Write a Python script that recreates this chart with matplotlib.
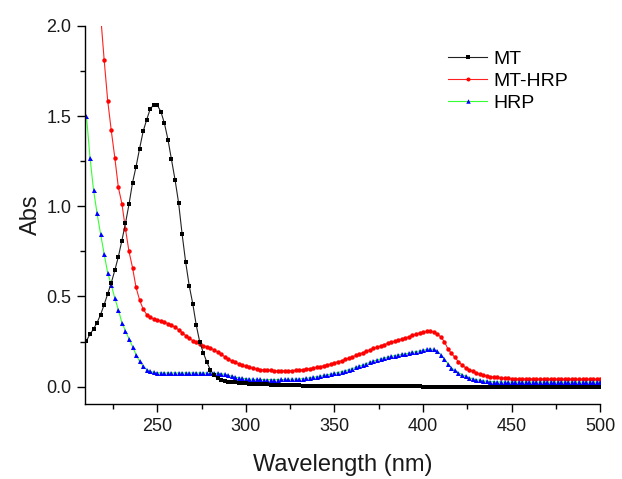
import numpy as np
import matplotlib
matplotlib.use("Agg")
import matplotlib.pyplot as plt

plt.rcParams["font.family"] = ["Liberation Sans", "DejaVu Sans"]

INK = "#1a1a1a"

# sampling grid of the spectra (nm)
wavelength = np.arange(210, 501, 2)

mt = [
    0.255, 0.29, 0.32, 0.355, 0.40, 0.455, 0.515, 0.575, 0.645, 0.72,
    0.81, 0.905, 1.01, 1.13, 1.22, 1.32, 1.415, 1.48, 1.54, 1.562,
    1.56, 1.525, 1.46, 1.37, 1.26, 1.147, 1.02, 0.845, 0.69, 0.56,
    0.46, 0.34, 0.245, 0.187, 0.135, 0.092, 0.065, 0.046, 0.036, 0.030,
    0.027, 0.025, 0.024, 0.022, 0.020, 0.018, 0.017, 0.016, 0.015, 0.014,
    0.013, 0.012, 0.011, 0.010, 0.010, 0.009, 0.009, 0.008, 0.008, 0.007,
    0.007, 0.006, 0.006, 0.006, 0.005, 0.005, 0.005, 0.005, 0.004, 0.004,
    0.004, 0.004, 0.004, 0.003, 0.003, 0.003, 0.003, 0.003, 0.003, 0.002,
    0.002, 0.002, 0.002, 0.002, 0.002, 0.002, 0.001, 0.001, 0.001, 0.001,
    0.001, 0.001, 0.001, 0.001, 0.001, 0.000, 0.000, 0.000, 0.000, 0.000,
    0.000, 0.000, 0.000, 0.000, 0.000, 0.000, 0.000, 0.000, 0.000, 0.000,
    0.000, 0.000, 0.000, 0.000, 0.000, 0.000, 0.000, 0.000, 0.000, 0.000,
    0.000, 0.000, 0.000, 0.000, 0.000, 0.000, 0.000, 0.000, 0.000, 0.000,
    0.000, 0.000, 0.000, 0.000, 0.000, 0.000, 0.000, 0.000, 0.000, 0.000,
    0.000, 0.000, 0.000, 0.000, 0.000, 0.000,
]

mt_hrp = [
    np.nan, np.nan, np.nan, np.nan, 2.06, 1.81, 1.585, 1.42, 1.27, 1.105,
    1.015, 0.875, 0.75, 0.66, 0.55, 0.48, 0.43, 0.40, 0.385, 0.375,
    0.37, 0.365, 0.358, 0.35, 0.34, 0.33, 0.315, 0.30, 0.283, 0.268,
    0.255, 0.245, 0.236, 0.228, 0.22, 0.213, 0.205, 0.192, 0.18, 0.166,
    0.153, 0.143, 0.134, 0.126, 0.118, 0.112, 0.107, 0.102, 0.098, 0.095,
    0.093, 0.091, 0.090, 0.089, 0.088, 0.088, 0.088, 0.088, 0.089, 0.090,
    0.092, 0.094, 0.097, 0.100, 0.103, 0.107, 0.111, 0.116, 0.121, 0.126,
    0.132, 0.138, 0.144, 0.151, 0.158, 0.165, 0.173, 0.181, 0.189, 0.196,
    0.204, 0.212, 0.219, 0.226, 0.233, 0.240, 0.246, 0.252, 0.258, 0.264,
    0.270, 0.277, 0.284, 0.291, 0.298, 0.303, 0.306, 0.307, 0.303, 0.293,
    0.275, 0.250, 0.210, 0.185, 0.162, 0.138, 0.120, 0.105, 0.095, 0.085,
    0.076, 0.069, 0.064, 0.060, 0.056, 0.053, 0.051, 0.049, 0.047, 0.046,
    0.045, 0.044, 0.043, 0.043, 0.042, 0.042, 0.042, 0.041, 0.041, 0.041,
    0.041, 0.040, 0.040, 0.040, 0.040, 0.040, 0.040, 0.040, 0.040, 0.040,
    0.040, 0.040, 0.040, 0.040, 0.040, 0.040,
]

hrp = [
    1.50, 1.27, 1.09, 0.96, 0.845, 0.735, 0.63, 0.565, 0.49, 0.427,
    0.355, 0.31, 0.265, 0.222, 0.177, 0.14, 0.113, 0.095, 0.085, 0.079,
    0.077, 0.076, 0.076, 0.076, 0.076, 0.076, 0.076, 0.076, 0.076, 0.076,
    0.076, 0.076, 0.076, 0.076, 0.075, 0.075, 0.075, 0.074, 0.072, 0.068,
    0.063, 0.058, 0.053, 0.049, 0.046, 0.044, 0.042, 0.041, 0.040, 0.040,
    0.039, 0.039, 0.039, 0.039, 0.039, 0.040, 0.040, 0.041, 0.041, 0.042,
    0.042, 0.044, 0.046, 0.049, 0.052, 0.055, 0.058, 0.062, 0.066, 0.070,
    0.074, 0.078, 0.083, 0.088, 0.094, 0.100, 0.107, 0.114, 0.121, 0.128,
    0.135, 0.142, 0.148, 0.154, 0.159, 0.164, 0.168, 0.172, 0.176, 0.179,
    0.182, 0.186, 0.190, 0.194, 0.198, 0.202, 0.206, 0.209, 0.206, 0.197,
    0.178, 0.155, 0.127, 0.105, 0.090, 0.078, 0.067, 0.058, 0.050, 0.044,
    0.039, 0.035, 0.032, 0.030, 0.028, 0.027, 0.026, 0.026, 0.025, 0.025,
    0.025, 0.025, 0.025, 0.025, 0.025, 0.025, 0.025, 0.025, 0.025, 0.025,
    0.025, 0.025, 0.025, 0.025, 0.025, 0.025, 0.025, 0.025, 0.025, 0.025,
    0.025, 0.025, 0.025, 0.025, 0.025, 0.025,
]

fig = plt.figure(figsize=(6.22, 4.79), dpi=100)
ax = fig.add_axes([0.137, 0.157, 0.828, 0.789])

h_mthrp, = ax.plot(wavelength, mt_hrp, color="#ff2020", linewidth=0.8, marker="o",
                   markersize=3.2, markerfacecolor="red", markeredgecolor="red",
                   markeredgewidth=0)
h_hrp, = ax.plot(wavelength, hrp, color="#33ff33", linewidth=0.8, marker="^",
                 markersize=3.6, markerfacecolor="blue", markeredgecolor="blue",
                 markeredgewidth=0)
h_mt, = ax.plot(wavelength, mt, color="#222222", linewidth=0.8, marker="s",
                markersize=3.0, markerfacecolor="black", markeredgecolor="black",
                markeredgewidth=0)

ax.set_xlim(209.3, 500)
ax.set_ylim(-0.095, 2.0)
ax.set_xticks([250, 300, 350, 400, 450, 500])
ax.set_xticks([225, 275, 325, 375, 425, 475], minor=True)
ax.set_yticks([0.0, 0.5, 1.0, 1.5, 2.0])
ax.set_yticks([0.25, 0.75, 1.25, 1.75], minor=True)
ax.set_yticklabels(["0.0", "0.5", "1.0", "1.5", "2.0"])

ax.tick_params(which="major", direction="out", length=6, width=1, labelsize=13,
               labelcolor=INK, pad=4)
ax.tick_params(which="minor", direction="out", length=3.5, width=1)
for spine in ("top", "right"):
    ax.spines[spine].set_visible(False)
for spine in ("left", "bottom"):
    ax.spines[spine].set_linewidth(1.0)

ax.set_xlabel("Wavelength (nm)", fontsize=17, color=INK, labelpad=14)
ax.set_ylabel("Abs", fontsize=17, color=INK, labelpad=3)

ax.legend([h_mt, h_mthrp, h_hrp], ["MT", "MT-HRP", "HRP"], loc="upper left",
          bbox_to_anchor=(0.705, 0.935), frameon=False, fontsize=14, numpoints=1,
          handlelength=2.0, handletextpad=0.3, labelspacing=0.22,
          borderpad=0, borderaxespad=0, markerscale=0.9)

fig.savefig("out.png", dpi=100, facecolor="white")
